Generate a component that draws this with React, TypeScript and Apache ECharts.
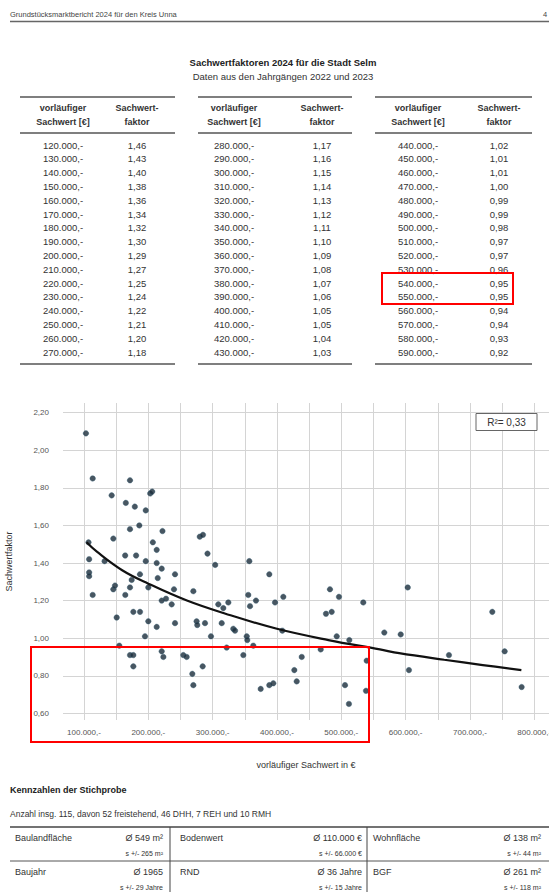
import React, { useEffect, useRef } from "react";
import * as echarts from "echarts";

// ---- Table data (vorläufiger Sachwert in € / Sachwertfaktor) ----
const tableSachwert = [
  120000, 130000, 140000, 150000, 160000, 170000, 180000, 190000,
  200000, 210000, 220000, 230000, 240000, 250000, 260000, 270000,
  280000, 290000, 300000, 310000, 320000, 330000, 340000, 350000,
  360000, 370000, 380000, 390000, 400000, 410000, 420000, 430000,
  440000, 450000, 460000, 470000, 480000, 490000, 500000, 510000,
  520000, 530000, 540000, 550000, 560000, 570000, 580000, 590000,
];
const tableFaktor = [
  1.46, 1.43, 1.40, 1.38, 1.36, 1.34, 1.32, 1.30,
  1.29, 1.27, 1.25, 1.24, 1.22, 1.21, 1.20, 1.18,
  1.17, 1.16, 1.15, 1.14, 1.13, 1.12, 1.11, 1.10,
  1.09, 1.08, 1.07, 1.06, 1.05, 1.05, 1.04, 1.03,
  1.02, 1.01, 1.01, 1.00, 0.99, 0.99, 0.98, 0.97,
  0.97, 0.96, 0.95, 0.95, 0.94, 0.94, 0.93, 0.92,
];
// rows of the table used as support points of the trend curve
const trendTableRows = [0, 4, 8, 14, 20, 28, 36, 44, 47];

// ---- Trend line ends (beyond the table range) ----
const trendStartX = [104000];
const trendStartY = [1.51];
const trendEndX = [660000, 720000, 780000];
const trendEndY = [0.885, 0.857, 0.83];

// ---- Scatter points (Kauffälle) ----
const scatterX = [
  103000, 113500, 171500, 143000, 203000, 206000, 165000, 179000, 196000, 186000,
  171500, 145600, 222000, 280000, 285000, 107000, 207000, 213000, 292000, 164000,
  181000, 108000, 196000, 213000, 304000, 357000, 132000, 108000, 108000, 113500,
  145600, 148200, 164200, 171500, 174100, 187000, 200000, 220800, 214600, 241500,
  239900, 220800, 227500, 236300, 150800, 176700, 187100, 200000, 213000, 241500,
  194800, 270000, 275100, 276100, 288100, 297400, 308800, 316600, 324400, 314100,
  332100, 334800, 353000, 353900, 355400, 358100, 367400, 388100, 397000, 409900,
  408300, 363200, 347700, 154900, 171500, 176700, 176700, 220800, 223400, 254400,
  259600, 284500, 268400, 270000, 321800, 374700, 388100, 394300, 427000, 430700,
  438500, 482400, 496400, 476200, 485100, 534200, 603300, 492900, 512500, 566900,
  592400, 468000, 539500, 505800, 538400, 511900, 605200, 667400, 734800, 754000,
  780400,
];
const scatterY = [
  2.09, 1.85, 1.84, 1.76, 1.77, 1.78, 1.72, 1.70, 1.68, 1.60,
  1.58, 1.53, 1.57, 1.54, 1.55, 1.51, 1.51, 1.47, 1.45, 1.44,
  1.44, 1.42, 1.41, 1.40, 1.39, 1.41, 1.41, 1.35, 1.33, 1.23,
  1.26, 1.28, 1.23, 1.27, 1.31, 1.34, 1.27, 1.37, 1.32, 1.34,
  1.26, 1.20, 1.21, 1.18, 1.11, 1.14, 1.14, 1.09, 1.06, 1.08,
  1.01, 1.25, 1.09, 1.07, 1.08, 1.01, 1.18, 1.16, 1.19, 1.08,
  1.05, 1.04, 1.01, 0.99, 1.23, 1.17, 1.20, 1.34, 1.19, 1.22,
  1.04, 0.96, 0.91, 0.96, 0.91, 0.91, 0.85, 0.93, 0.90, 0.91,
  0.90, 0.85, 0.81, 0.75, 0.95, 0.73, 0.75, 0.76, 0.83, 0.77,
  0.90, 1.26, 1.22, 1.13, 1.14, 1.19, 1.27, 1.01, 0.99, 1.03,
  1.02, 0.94, 0.88, 0.75, 0.72, 0.65, 0.83, 0.91, 1.14, 0.93,
  0.74,
];

// ---- Axis ticks ----
const xTicks = [100000, 200000, 300000, 400000, 500000, 600000, 700000, 800000];
const xGrid = [100000, 150000, 200000, 250000, 300000, 350000, 400000, 450000, 500000, 550000, 600000, 650000, 700000, 750000, 800000];
const yTicks = [0.6, 0.8, 1.0, 1.2, 1.4, 1.6, 1.8, 2.0, 2.2];

// ---- Kennzahlen der Stichprobe ----
const kennLabels = ["Baulandfläche", "Bodenwert", "Wohnfläche", "Baujahr", "RND", "BGF"];
const kennMeans = ["Ø 549 m²", "Ø 110.000 €", "Ø 138 m²", "Ø 1965", "Ø 36 Jahre", "Ø 261 m²"];
const kennSd = ["s +/- 265 m²", "s +/- 66.000 €", "s +/- 44 m²", "s +/- 29 Jahre", "s +/- 15 Jahre", "s +/- 118 m²"];

const FONT = "'Liberation Sans', Arial, sans-serif";
const TXT = "#333";

function fmtThousand(v: number): string {
  const s = Math.round(v).toString();
  return s.replace(/\B(?=(\d{3})+(?!\d))/g, ".") + ",-";
}
function fmtFactor(v: number): string {
  return v.toFixed(2).replace(".", ",");
}

function text(x: number, y: number, t: string, opts: any = {}) {
  return {
    type: "text",
    x,
    y,
    silent: true,
    style: {
      text: t,
      fill: opts.fill || TXT,
      font: `${opts.bold ? "bold " : ""}${opts.size || 9.5}px ${FONT}`,
      textAlign: opts.align || "left",
      textVerticalAlign: "middle",
    },
  };
}
function hline(x1: number, x2: number, y: number, w = 1, c = "#555") {
  return { type: "line", silent: true, shape: { x1, y1: y, x2, y2: y }, style: { stroke: c, lineWidth: w } };
}
function vline(x: number, y1: number, y2: number, w = 1, c = "#555") {
  return { type: "line", silent: true, shape: { x1: x, y1, x2: x, y2 }, style: { stroke: c, lineWidth: w } };
}

export default function App() {
  const ref = useRef<HTMLDivElement>(null);
  useEffect(() => {
    if (!ref.current) return;
    const chart = echarts.init(ref.current, null, { renderer: "svg" });

    const graphics: any[] = [];
    // Page header
    graphics.push(text(10, 14, "Grundstücksmarktbericht 2024 für den Kreis Unna", { size: 7.5, fill: "#444" }));
    graphics.push(text(543, 14, "4", { size: 7.5, fill: "#444" }));
    graphics.push(hline(10, 549, 21.5, 1.5, "#666"));
    // Title
    graphics.push(text(283, 62, "Sachwertfaktoren 2024 für die Stadt Selm", { bold: true, size: 9.5, align: "center", fill: "#222" }));
    graphics.push(text(283, 76, "Daten aus den Jahrgängen 2022 und 2023", { size: 9.5, align: "center", fill: "#333" }));

    // Table groups
    const groups = [
      { l: 20, r: 175, vc: 63, fc: 137 },
      { l: 198, r: 352, vc: 234, fc: 322 },
      { l: 375, r: 532, vc: 418, fc: 499 },
    ];
    const rowsPerGroup = 16;
    groups.forEach((g, gi) => {
      graphics.push(hline(g.l, g.r, 97, 1.5, "#555"));
      graphics.push(hline(g.l, g.r, 133, 1.5, "#555"));
      graphics.push(hline(g.l, g.r, 364, 1.5, "#555"));
      graphics.push(text(g.vc, 108, "vorläufiger", { bold: true, size: 9, align: "center", fill: "#333" }));
      graphics.push(text(g.vc, 122, "Sachwert [€]", { bold: true, size: 9, align: "center", fill: "#333" }));
      graphics.push(text(g.fc, 108, "Sachwert-", { bold: true, size: 9, align: "center", fill: "#333" }));
      graphics.push(text(g.fc, 122, "faktor", { bold: true, size: 9, align: "center", fill: "#333" }));
      for (let i = 0; i < rowsPerGroup; i++) {
        const idx = gi * rowsPerGroup + i;
        const y = 145 + i * 13.8;
        graphics.push(text(g.vc, y, fmtThousand(tableSachwert[idx]), { size: 9.5, align: "center" }));
        graphics.push(text(g.fc, y, fmtFactor(tableFaktor[idx]), { size: 9.5, align: "center" }));
      }
    });
    // red highlight in table
    graphics.push({
      type: "rect", silent: true, z: 100,
      shape: { x: 382, y: 273, width: 131, height: 31 },
      style: { fill: "none", stroke: "#ff0000", lineWidth: 2 },
    });

    // R² box
    graphics.push({
      type: "rect", silent: true, z: 100,
      shape: { x: 476, y: 413.5, width: 61, height: 17 },
      style: { fill: "#fff", stroke: "#666", lineWidth: 1 },
    });
    graphics.push({ ...text(506.5, 422.5, "R²= 0,33", { size: 10, align: "center", fill: "#333" }), z: 101 });

    // red highlight in chart
    graphics.push({
      type: "rect", silent: true, z: 100,
      shape: { x: 31, y: 647, width: 338, height: 95 },
      style: { fill: "none", stroke: "#ff0000", lineWidth: 2 },
    });

    // Kennzahlen
    graphics.push(text(10, 790, "Kennzahlen der Stichprobe", { bold: true, size: 9, fill: "#222" }));
    graphics.push(text(10, 814, "Anzahl insg. 115, davon 52 freistehend, 46 DHH, 7 REH und 10 RMH", { size: 8.5, fill: "#333" }));
    graphics.push(hline(10, 549, 827, 1.5, "#444"));
    graphics.push(hline(10, 549, 861, 1, "#555"));
    graphics.push(vline(170, 827, 892, 1, "#444"));
    graphics.push(vline(367, 827, 892, 1, "#444"));
    const colL = [15, 180, 373];
    const colR = [163, 362, 541];
    for (let r = 0; r < 2; r++) {
      for (let c = 0; c < 3; c++) {
        const k = r * 3 + c;
        const yTop = 838 + r * 34;
        graphics.push(text(colL[c], yTop, kennLabels[k], { size: 9, fill: "#333" }));
        graphics.push(text(colR[c], yTop, kennMeans[k], { size: 9, align: "right", fill: "#333" }));
        graphics.push(text(colR[c], yTop + 15, kennSd[k], { size: 7, align: "right", fill: "#333" }));
      }
    }

    const trendData: number[][] = [];
    trendStartX.forEach((x, i) => trendData.push([x, trendStartY[i]]));
    trendTableRows.forEach((r) => trendData.push([tableSachwert[r], tableFaktor[r]]));
    trendEndX.forEach((x, i) => trendData.push([x, trendEndY[i]]));

    chart.setOption({
      animation: false,
      backgroundColor: "#fff",
      textStyle: { fontFamily: FONT },
      grid: {
        left: 63, right: 0, top: 403, bottom: 172,
        containLabel: false,
        outerBoundsMode: "none",
      },
      xAxis: {
        type: "value",
        min: 67350,
        max: 822950,
        name: "vorläufiger Sachwert in €",
        nameLocation: "middle",
        nameGap: 40,
        nameTextStyle: { fontSize: 9, color: "#333", fontFamily: FONT },
        axisLine: { show: false },
        axisTick: { show: false, customValues: xGrid },
        axisLabel: {
          customValues: xTicks,
          formatter: (v: number) => fmtThousand(v),
          fontSize: 8, color: "#555", margin: 8, fontFamily: FONT,
        },
        splitLine: { show: true, lineStyle: { color: "#d4d4d4", width: 1 } },
      },
      yAxis: {
        type: "value",
        min: 0.5645,
        max: 2.2516,
        name: "Sachwertfaktor",
        nameLocation: "middle",
        nameGap: 50,
        nameRotate: 90,
        nameTextStyle: { fontSize: 9, color: "#333", fontFamily: FONT },
        axisLine: { show: false },
        axisTick: { show: false, customValues: yTicks },
        axisLabel: {
          customValues: yTicks,
          formatter: (v: number) => fmtFactor(v),
          fontSize: 8, color: "#555", margin: 14, fontFamily: FONT,
        },
        splitLine: { show: true, lineStyle: { color: "#d4d4d4", width: 1 } },
      },
      graphic: graphics,
      series: [
        {
          type: "scatter",
          data: scatterX.map((x, i) => [x, scatterY[i]]),
          symbolSize: 5.5,
          itemStyle: { color: "#1a2c3a", borderColor: "#2f5a70", borderWidth: 0.5 },
          silent: true,
        },
        {
          type: "line",
          data: trendData,
          smooth: 0.4,
          showSymbol: false,
          symbol: "none",
          lineStyle: { color: "#111", width: 2.2 },
          silent: true,
          z: 5,
        },
      ],
    });
    return () => chart.dispose();
  }, []);
  return (
    <div
      ref={ref}
      style={{ position: "absolute", left: 0, top: 0, width: 549, height: 892, background: "#fff" }}
    />
  );
}
